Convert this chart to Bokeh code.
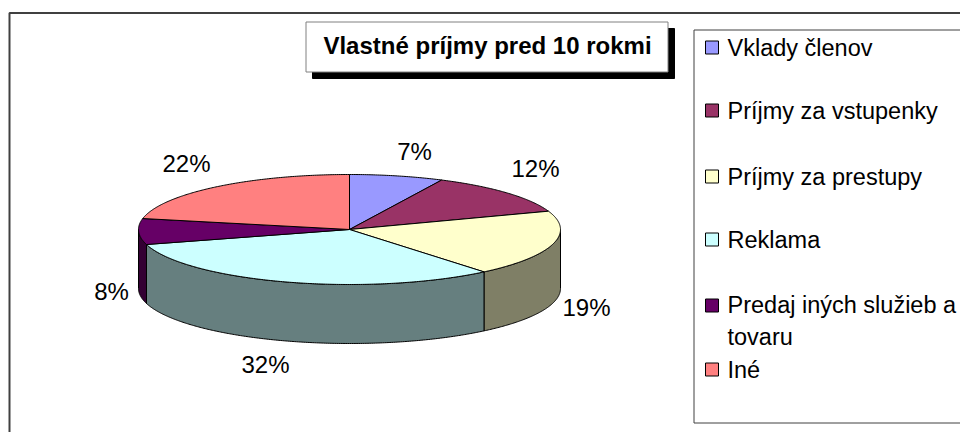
import math
from bokeh.plotting import figure
from bokeh.models import Range1d
from bokeh.core.properties import value
from bokeh.embed import file_html
from bokeh.resources import INLINE

# Data
categories = ["Vklady členov", "Príjmy za vstupenky", "Príjmy za prestupy",
              "Reklama", "Predaj iných služieb a tovaru", "Iné"]
shares = [7.2, 12.4, 19.4, 31.6, 7.6, 21.8]
percent_labels = ["7%", "12%", "19%", "32%", "8%", "22%"]
top_colors = ["#9999FF", "#993366", "#FFFFCC", "#CCFFFF", "#660066", "#FF8080"]
side_colors = ["#4C4C7F", "#4C1933", "#7F7F66", "#667F7F", "#330033", "#7F4040"]
title_text = "Vlastné príjmy pred 10 rokmi"

# Layout (page pixels)
W, H = 960, 432
CX, CY, RX, RY, DEPTH = 349.0, 229.0, 211.0, 55.0, 59.0
label_xy = [(414, 151), (535, 168), (586, 307), (265, 364), (111, 291), (186, 163)]
legend_rows = [47, 110, 176, 239, 305, 369]
legend_lines = [("Vklady členov", 47), ("Príjmy za vstupenky", 110), ("Príjmy za prestupy", 176),
                ("Reklama", 239), ("Predaj iných služieb a", 304), ("tovaru", 336), ("Iné", 369)]
FONT = value("Liberation Sans")

p = figure(width=W, height=H, output_backend="svg", toolbar_location=None,
           x_range=Range1d(0, W), y_range=Range1d(H, 0), min_border=0,
           outline_line_color=None, background_fill_color="white", border_fill_color="white")
p.axis.visible = False
p.grid.visible = False


def pt(deg, dy=0.0):
    a = math.radians(deg)
    return CX + RX * math.sin(a), CY - RY * math.cos(a) + dy


def arc(a0, a1, dy=0.0):
    n = max(2, int(abs(a1 - a0) * 2))
    return [pt(a0 + (a1 - a0) * i / n, dy) for i in range(n + 1)]


# chart frame, clipped by the page edges like the reference
p.quad(left=[9], right=[W + 20], top=[12.5], bottom=[H + 20], fill_color="white",
       line_color="#404040", line_width=2)

# pie sides (front half only)
total = sum(shares)
edges = [0.0]
for s in shares:
    edges.append(edges[-1] + s / total * 360)
sx, sy, sc = [], [], []
for i in range(len(shares)):
    a0, a1 = max(edges[i], 90.0), min(edges[i + 1], 270.0)
    if a0 >= a1:
        continue
    pts = arc(a0, a1) + arc(a1, a0, DEPTH)
    sx.append([q[0] for q in pts])
    sy.append([q[1] for q in pts])
    sc.append(side_colors[i])
p.patches(sx, sy, fill_color=sc, line_color="black", line_width=1)

# pie top
tx, ty = [], []
for i in range(len(shares)):
    pts = [(CX, CY)] + arc(edges[i], edges[i + 1])
    tx.append([q[0] for q in pts])
    ty.append([q[1] for q in pts])
p.patches(tx, ty, fill_color=top_colors, line_color="black", line_width=1)

# percent labels
p.text(x=[q[0] for q in label_xy], y=[q[1] for q in label_xy], text=percent_labels,
       text_font=FONT, text_font_size="24px", text_color="black",
       text_align="center", text_baseline="middle")

# title box
p.quad(left=[312], right=[674], top=[28], bottom=[78], fill_color="black", line_color="black")
p.quad(left=[305.5], right=[667.5], top=[21.5], bottom=[71.5], fill_color="white",
       line_color="#808080", line_width=1)
p.text(x=[487], y=[45], text=[title_text], text_font=FONT,
       text_font_size="24px", text_font_style="bold", text_color="black",
       text_align="center", text_baseline="middle")

# legend
p.quad(left=[693.5], right=[W + 20], top=[29.5], bottom=[422.5], fill_color="white",
       line_color="#404040", line_width=1)
p.quad(left=[705] * 6, right=[718] * 6, top=[r - 6.5 for r in legend_rows],
       bottom=[r + 6.5 for r in legend_rows], fill_color=top_colors, line_color="black", line_width=1)
p.text(x=[727] * len(legend_lines), y=[r for _, r in legend_lines],
       text=[t for t, _ in legend_lines], text_font=FONT, text_font_size="23.5px",
       text_color="black", text_align="left", text_baseline="middle")

open("out.html", "w").write(file_html(p, INLINE))
